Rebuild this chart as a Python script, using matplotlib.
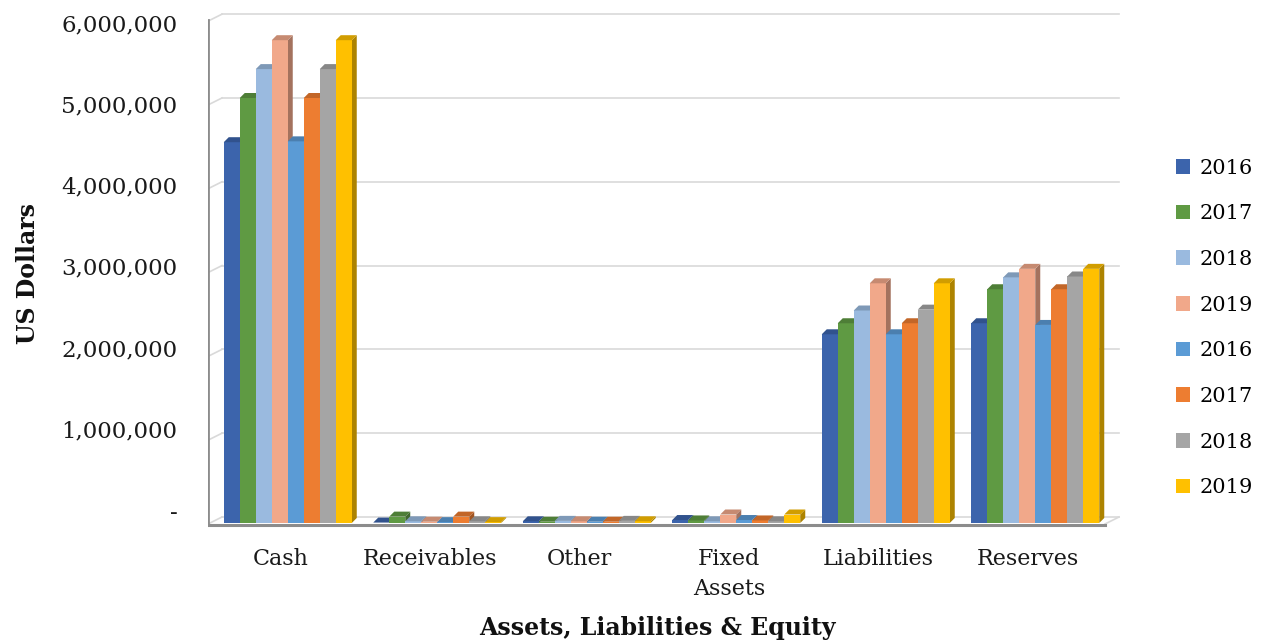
import matplotlib.pyplot as plt
import matplotlib.colors as mcolors
from matplotlib.patches import Polygon, Patch
import numpy as np

# Data
categories = ["Cash", "Receivables", "Other", "Fixed\nAssets", "Liabilities", "Reserves"]
series_labels = ["2016", "2017", "2018", "2019", "2016", "2017", "2018", "2019"]
series_colors = ["#3c64ac", "#5f9a43", "#9abadf", "#f1a88a",
                 "#5b9bd5", "#ed7d31", "#a5a5a5", "#ffc000"]

s2016a = [4480000, 5000, 20000, 35000, 2220000, 2350000]
s2017a = [5000000, 75000, 15000, 30000, 2350000, 2750000]
s2018a = [5340000, 20000, 25000, 20000, 2500000, 2890000]
s2019a = [5680000, 15000, 20000, 100000, 2820000, 2990000]
s2016b = [4490000, 10000, 15000, 35000, 2220000, 2330000]
s2017b = [5000000, 75000, 15000, 30000, 2350000, 2750000]
s2018b = [5340000, 20000, 25000, 20000, 2510000, 2900000]
s2019b = [5680000, 10000, 20000, 100000, 2820000, 2990000]
all_series = [s2016a, s2017a, s2018a, s2019a, s2016b, s2017b, s2018b, s2019b]

ytick_values = [0, 1000000, 2000000, 3000000, 4000000, 5000000, 6000000]
ytick_labels = ["-", "1,000,000", "2,000,000", "3,000,000",
                "4,000,000", "5,000,000", "6,000,000"]

plt.rcParams['font.family'] = ['DejaVu Serif']

W, H = 1263, 643
fig = plt.figure(figsize=(W / 100, H / 100), dpi=100)

# axes placed in pixel terms
px_left, px_right, px_top, px_bottom = 208, 1125, 10, 530
ax = fig.add_axes([px_left / W, 1 - px_bottom / H,
                   (px_right - px_left) / W, (px_bottom - px_top) / H])

px_per_cat = 149.5
px_per_unit = 85 / 1e6
x0 = -0.5
x1 = x0 + (px_right - px_left) / px_per_cat
y_bot = -(px_bottom - 523) / px_per_unit
y_top = (523 - px_top) / px_per_unit
ax.set_xlim(x0, x1)
ax.set_ylim(y_bot, y_top)


def px_dx(p):
    return p / px_per_cat


def px_dy(p):
    return p / px_per_unit


# back wall / floor (3D look)
wall_dx, wall_dy = px_dx(14), px_dy(7)
x_end = x0 + px_dx(1105 - px_left)
grid_col = "#d9d9d9"
for g in ytick_values:
    gy = g * 0.986 + px_dy(6)
    ax.plot([x0, x0 + wall_dx], [gy - wall_dy, gy], color=grid_col, lw=1.2, zorder=1)
    ax.plot([x0 + wall_dx, x_end + wall_dx], [gy, gy], color=grid_col, lw=1.2, zorder=1)
ax.plot([x_end, x_end + wall_dx], [px_dy(-1), px_dy(6)], color=grid_col, lw=1.2, zorder=1)
ax.plot([x0, x_end], [px_dy(-2), px_dy(-2)], color="#8c8c8c", lw=2.2, zorder=5)
ax.plot([x0, x0], [px_dy(-2), px_dy(503)], color="#8c8c8c", lw=2, zorder=5)

# bars with top and side faces
n = len(all_series)
bw = px_dx(16)
ddx, ddy = px_dx(5), px_dy(5)
start = -n * bw / 2 + px_dx(5)


def shade(c, f):
    r, g, b = mcolors.to_rgb(c)
    return (r * f, g * f, b * f)


for ci in range(len(categories)):
    for si, vals in enumerate(all_series):
        v = vals[ci]
        xl = ci + start + si * bw
        col = series_colors[si]
        ax.add_patch(Polygon([(xl, 0), (xl + bw, 0), (xl + bw, v), (xl, v)],
                             closed=True, facecolor=col, edgecolor="none", zorder=3))
        ax.add_patch(Polygon([(xl + bw, 0), (xl + bw + ddx, ddy),
                              (xl + bw + ddx, v + ddy), (xl + bw, v)],
                             closed=True, facecolor=shade(col, 0.68), edgecolor="none", zorder=2))
        ax.add_patch(Polygon([(xl, v), (xl + bw, v), (xl + bw + ddx, v + ddy), (xl + ddx, v + ddy)],
                             closed=True, facecolor=shade(col, 0.82), edgecolor="none", zorder=3))

for sp in ax.spines.values():
    sp.set_visible(False)

# y tick labels (Excel puts them slightly off the wall gridlines)
label_pos = [(13 + 81.2 * (g / 1e6)) / 85 * 1e6 for g in ytick_values]
ax.set_yticks(label_pos)
ax.set_yticklabels(ytick_labels, fontsize=16.5, color="#1a1a1a")
ax.tick_params(axis="y", length=0, pad=22)

ax.set_xticks(np.arange(len(categories)) - px_dx(2))
ax.set_xticklabels(categories, fontsize=16, color="#1a1a1a", linespacing=1.45, va="top")
ax.tick_params(axis="x", length=0, pad=13)

fig.text(28 / W, 1 - 274 / H, "US Dollars", rotation=90, fontsize=17, fontweight="bold",
         ha="center", va="center", color="#111111")
fig.text(657 / W, 1 - 628 / H, "Assets, Liabilities & Equity", fontsize=17, fontweight="bold",
         ha="center", va="center", color="#111111")

handles = [Patch(facecolor=c, edgecolor="none") for c in series_colors]
fig.legend(handles, series_labels, loc="upper left", bbox_to_anchor=(1157 / W, 1 - 140 / H),
           frameon=False, fontsize=15, handlelength=0.7, handleheight=0.7,
           handletextpad=0.45, labelspacing=1.28)

fig.savefig("out.png", dpi=100)
